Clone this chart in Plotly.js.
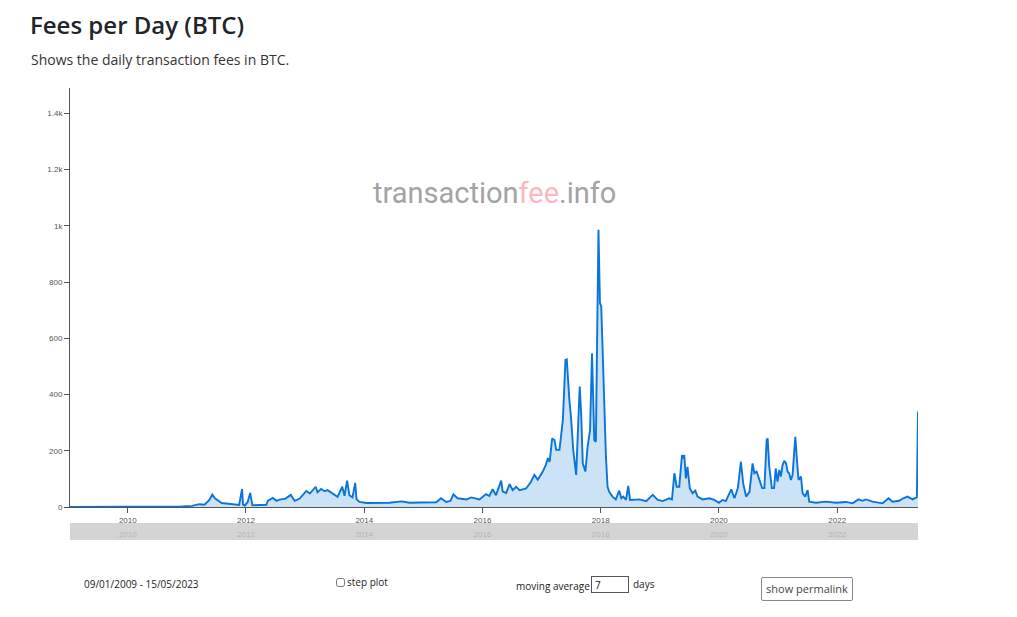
<!DOCTYPE html>
<html><head><meta charset="utf-8">
<script src="https://cdn.plot.ly/plotly-3.0.1.min.js"></script>
<style>
body{margin:0;background:#fff;font-family:"Open Sans",sans-serif;}
#chart{position:absolute;left:0;top:0;width:1017px;height:617px;}
.ctl{position:absolute;font-size:10px;color:#222;white-space:nowrap;}
</style></head><body>
<div id="chart"></div>
<div class="ctl" style="left:84px;top:577px;">09/01/2009 - 15/05/2023</div>
<label class="ctl" style="left:336px;top:575px;"><input type="checkbox" style="width:9px;height:9px;margin:0 2px 0 0;vertical-align:-1px;">step plot</label>
<div class="ctl" style="left:516px;top:579px;">moving average</div>
<input class="ctl" type="text" value="7" style="left:591px;top:576px;width:33px;height:15px;border:1px solid #555;padding:0 0 0 3px;font-size:10px;font-family:'Open Sans',sans-serif;">
<div class="ctl" style="left:633px;top:577px;">days</div>
<button class="ctl" style="left:761px;top:577px;width:92px;height:24px;border:1px solid #888;border-radius:2px;background:#fff;color:#444;font-size:11px;font-family:'Open Sans',sans-serif;padding:0 0 2px 0;">show permalink</button>
<script>
const dates = [
'2009-01-09','2009-06-01','2010-01-01','2010-06-01','2010-12-01','2011-02-01','2011-03-20','2011-04-20','2011-05-20','2011-06-07',
'2011-06-25','2011-08-04','2011-10-01','2011-11-20','2011-12-08','2011-12-14','2011-12-25','2012-01-12','2012-01-27','2012-02-10',
'2012-03-25','2012-05-06','2012-05-15','2012-06-14','2012-07-08','2012-07-27','2012-09-01','2012-10-04','2012-10-28','2012-11-28',
'2013-01-08','2013-01-30','2013-03-07','2013-03-18','2013-04-09','2013-05-01','2013-05-19','2013-06-20','2013-07-20','2013-08-18',
'2013-09-01','2013-09-17','2013-10-01','2013-10-20','2013-11-06','2013-11-14','2013-12-02','2014-01-15','2014-04-05','2014-06-06',
'2014-08-18','2014-10-08','2014-12-10','2015-02-10','2015-03-22','2015-04-20','2015-05-22','2015-06-18','2015-07-06','2015-07-31',
'2015-09-24','2015-10-24','2015-12-14','2016-01-23','2016-02-13','2016-03-04','2016-03-25','2016-04-26','2016-05-05','2016-05-27',
'2016-06-17','2016-07-06','2016-07-27','2016-08-18','2016-09-27','2016-10-27','2016-11-17','2016-12-08','2017-01-08','2017-01-26',
'2017-02-09','2017-02-19','2017-03-07','2017-03-21','2017-04-01','2017-04-21','2017-05-02','2017-05-12','2017-05-28','2017-06-05',
'2017-06-21','2017-07-01','2017-07-15','2017-08-02','2017-08-14','2017-08-24','2017-09-02','2017-09-12','2017-09-28','2017-10-12',
'2017-10-27','2017-11-08','2017-11-22','2017-12-02','2017-12-08','2017-12-18','2017-12-27','2018-01-04','2018-01-12','2018-01-23',
'2018-02-02','2018-02-12','2018-02-22','2018-03-15','2018-04-04','2018-04-25','2018-05-08','2018-05-20','2018-06-06','2018-06-20',
'2018-07-01','2018-08-28','2018-10-09','2018-11-18','2018-12-19','2019-01-19','2019-02-28','2019-03-17','2019-04-01','2019-04-15',
'2019-05-01','2019-05-18','2019-05-26','2019-06-01','2019-06-11','2019-06-21','2019-07-05','2019-07-22','2019-08-08','2019-08-22',
'2019-09-23','2019-11-03','2019-12-04','2020-01-01','2020-01-24','2020-02-13','2020-03-17','2020-04-06','2020-04-27','2020-05-16',
'2020-05-30','2020-06-17','2020-07-08','2020-07-27','2020-08-07','2020-08-21','2020-09-08','2020-09-24','2020-10-08','2020-10-22',
'2020-10-28','2020-11-07','2020-11-23','2020-12-07','2020-12-17','2020-12-28','2021-01-08','2021-01-18','2021-01-28','2021-02-08',
'2021-02-19','2021-02-28','2021-03-10','2021-03-21','2021-03-31','2021-04-17','2021-04-27','2021-05-07','2021-05-22','2021-06-01',
'2021-06-17','2021-07-02','2021-07-12','2021-08-22','2021-10-23','2021-12-24','2022-02-24','2022-04-06','2022-05-12','2022-06-06',
'2022-06-27','2022-08-08','2022-10-08','2022-11-14','2022-12-08','2023-01-19','2023-02-13','2023-03-11','2023-04-12','2023-04-22',
'2023-05-08','2023-05-15'
];
const fees = [
0,0.1,0.3,1,2,4,10,8,25,44,
30,14,9,7,64,8,5,18,50,6,
7,8,22,32,22,26,30,43,22,30,
57,48,72,52,64,56,60,46,36,72,
40,94,42,34,86,28,18,14,14,15,
20,15,16,15,17,31,18,22,45,31,
27,34,27,46,39,63,42,94,55,50,
81,60,72,60,66,90,114,97,126,149,
174,160,244,238,203,203,262,310,523,525,
381,321,203,114,286,428,333,155,126,215,
274,547,238,232,523,986,725,713,570,310,
179,72,54,37,27,58,31,37,25,75,
25,27,21,43,25,21,31,27,120,72,
72,185,173,185,102,143,67,49,58,37,
27,31,25,15,25,21,63,31,67,161,
84,37,54,155,120,126,90,67,67,238,
244,143,67,67,137,90,132,108,149,164,
155,126,120,96,114,250,167,96,108,49,
37,60,19,15,19,15,18,13,27,22,
27,19,13,31,19,22,31,37,27,31,
35,340
];
const xTickFormat = '%Y';
const chartTitle = 'Fees per Day (BTC)';
const chartSubtitle = 'Shows the daily transaction fees in BTC.';

const H = 457; // paper height in px
const traces = [
  {x: dates, y: fees, type:'scatter', mode:'lines', fill:'tozeroy',
   line:{color:'#0a74da', width:1.9, shape:'linear'}, fillcolor:'rgba(0,116,217,0.2)',
   hoverinfo:'x+y', showlegend:false},
  {x: dates, y: fees, xaxis:'x2', yaxis:'y', type:'scatter', mode:'lines',
   line:{width:0, color:'rgba(0,0,0,0)'}, hoverinfo:'skip', showlegend:false}
];
const tickfont = {family:'Liberation Sans, Arial, sans-serif', size:8, color:'#555'};
const layout = {
  width:1017, height:617,
  margin:{l:70, r:99, t:88, b:72},
  paper_bgcolor:'#fff', plot_bgcolor:'#fff',
  showlegend:false,
  title:{text:chartTitle, xref:'container', yref:'container', x:30/1017, xanchor:'left',
         y:1-26/617, yanchor:'middle',
         font:{family:'Open Sans, sans-serif', size:24, color:'#212529', weight:600}},
  xaxis:{type:'date', range:['2009-01-09','2023-05-15'], showgrid:false, zeroline:false,
         showline:true, linecolor:'#555', linewidth:1, ticks:'outside', ticklen:5, tickcolor:'#555',
         tick0:'2010-01-01', dtick:'M24', tickformat:xTickFormat, tickfont:tickfont, fixedrange:true},
  xaxis2:{type:'date', overlaying:'x', matches:'x', anchor:'free', position:(545-521)/H,
         showgrid:false, zeroline:false, showline:false, ticks:'outside', ticklen:5,
         tickcolor:'rgba(0,0,0,0)', tick0:'2010-01-01', dtick:'M24', tickformat:xTickFormat,
         tickfont:{family:'Liberation Sans, Arial, sans-serif', size:8, color:'#b4b4b4'}, fixedrange:true},
  yaxis:{domain:[(545-507)/H, 1], range:[0,1490], dtick:200, tickformat:'~s', showgrid:false,
         zeroline:false, showline:true, linecolor:'#555', linewidth:1, ticks:'outside', ticklen:5,
         tickcolor:'#555', tickfont:tickfont, fixedrange:true},
  shapes:[{type:'rect', xref:'paper', yref:'paper', x0:0, x1:1, y0:(545-540)/H, y1:(545-523)/H,
           fillcolor:'#d4d4d4', line:{width:0}, layer:'below'}],
  annotations:[
    {text:chartSubtitle, xref:'paper', yref:'paper', x:(29-70)/848, xanchor:'left',
     y:(545-59)/H, yanchor:'middle', showarrow:false,
     font:{family:'Open Sans, sans-serif', size:14, color:'#333'}},
    {text:'transaction<span style="color:#ffb6c1">fee</span>.info', xref:'paper', yref:'paper',
     x:(494-70)/848, xanchor:'center', y:(545-193)/H, yanchor:'middle', showarrow:false,
     font:{family:'Roboto, sans-serif', size:29, color:'#a3a3a3'}}
  ]
};
Plotly.newPlot('chart', traces, layout, {displayModeBar:false, staticPlot:true});
</script>
</body></html>
